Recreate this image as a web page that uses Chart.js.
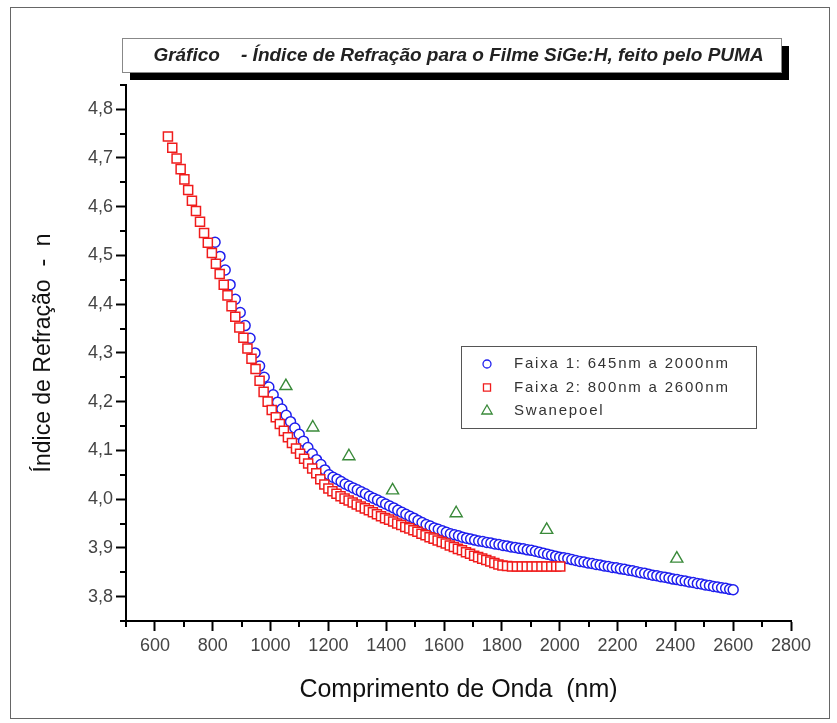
<!DOCTYPE html>
<html>
<head>
<meta charset="utf-8">
<script src="https://cdn.jsdelivr.net/npm/chart.js@4.4.0/dist/chart.umd.min.js"></script>
<style>
  html, body { margin: 0; padding: 0; background: #fff; }
  #wrap { width: 837px; height: 723px; }
</style>
</head>
<body>
<div id="wrap"><canvas id="myChart" width="837" height="723"></canvas></div>
<script>
// Faixa 1 - blue circles (wavelength nm / refractive index)
const faixa1Wave = [
  808, 825, 843, 860, 878, 895, 912, 929, 946, 962, 978, 994, 1009, 1024, 1039, 1054,
  1069, 1084, 1099, 1114, 1129, 1144, 1159, 1174, 1188, 1202, 1216, 1230, 1244, 1258,
  1272, 1286, 1300, 1314, 1328, 1342, 1356, 1370, 1384, 1398, 1412, 1426, 1440, 1454,
  1468, 1482, 1496, 1510, 1524, 1538, 1552, 1566, 1580, 1594, 1608, 1622, 1636, 1650,
  1664, 1678, 1692, 1706, 1720, 1734, 1748, 1762, 1776, 1790, 1804, 1818, 1832, 1846,
  1860, 1874, 1888, 1902, 1916, 1930, 1944, 1958, 1972, 1986, 2000, 2014, 2028, 2042,
  2056, 2070, 2084, 2098, 2112, 2126, 2140, 2154, 2168, 2182, 2196, 2210, 2224, 2238,
  2252, 2266, 2280, 2294, 2308, 2322, 2336, 2350, 2364, 2378, 2392, 2406, 2420, 2434,
  2448, 2462, 2476, 2490, 2504, 2518, 2532, 2546, 2560, 2574, 2588, 2600
];
const faixa1Index = [
  4.527, 4.498, 4.470, 4.440, 4.410, 4.383, 4.356, 4.330, 4.300, 4.273, 4.250, 4.230, 4.214, 4.199, 4.185, 4.172,
  4.159, 4.146, 4.133, 4.119, 4.106, 4.093, 4.081, 4.071, 4.060, 4.050, 4.045, 4.041, 4.036, 4.031,
  4.027, 4.023, 4.019, 4.015, 4.011, 4.006, 4.002, 3.998, 3.994, 3.990, 3.986, 3.982, 3.977, 3.973,
  3.969, 3.965, 3.961, 3.956, 3.952, 3.948, 3.945, 3.941, 3.938, 3.935, 3.932, 3.929, 3.927, 3.925,
  3.922, 3.920, 3.918, 3.916, 3.914, 3.913, 3.911, 3.910, 3.908, 3.907, 3.905, 3.904, 3.902, 3.901,
  3.899, 3.898, 3.896, 3.895, 3.893, 3.891, 3.889, 3.887, 3.885, 3.883, 3.881, 3.880, 3.878, 3.876,
  3.874, 3.872, 3.871, 3.869, 3.868, 3.866, 3.865, 3.863, 3.862, 3.860, 3.859, 3.857, 3.856, 3.854,
  3.853, 3.851, 3.849, 3.848, 3.846, 3.844, 3.843, 3.841, 3.840, 3.838, 3.836, 3.835, 3.833, 3.832,
  3.830, 3.829, 3.827, 3.826, 3.824, 3.823, 3.821, 3.820, 3.818, 3.817, 3.815, 3.814
];

// Faixa 2 - red squares
const faixa2Wave = [
  645, 660, 675, 689, 702, 715, 728, 742, 756, 770, 783, 797, 811, 824, 838, 851,
  865, 878, 892, 906, 920, 934, 948, 962, 976, 990, 1004, 1018, 1032, 1046, 1060, 1074,
  1088, 1102, 1116, 1130, 1144, 1158, 1172, 1186, 1200, 1214, 1228, 1242, 1256, 1270,
  1284, 1298, 1312, 1326, 1340, 1354, 1368, 1382, 1396, 1410, 1424, 1438, 1452, 1466,
  1480, 1494, 1508, 1522, 1536, 1550, 1564, 1578, 1592, 1606, 1620, 1634, 1648, 1662,
  1676, 1690, 1704, 1718, 1732, 1746, 1760, 1774, 1788, 1802, 1818, 1835, 1852, 1869,
  1886, 1903, 1920, 1937, 1954, 1971, 1988, 2002
];
const faixa2Index = [
  4.744, 4.721, 4.699, 4.677, 4.656, 4.634, 4.612, 4.591, 4.569, 4.546, 4.526, 4.505, 4.483, 4.462, 4.440, 4.418,
  4.396, 4.374, 4.352, 4.331, 4.309, 4.288, 4.267, 4.243, 4.220, 4.200, 4.183, 4.168, 4.154, 4.140, 4.127, 4.115,
  4.104, 4.093, 4.083, 4.073, 4.063, 4.053, 4.041, 4.030, 4.022, 4.016, 4.011, 4.006, 4.001, 3.997,
  3.993, 3.989, 3.985, 3.981, 3.977, 3.973, 3.969, 3.965, 3.961, 3.958, 3.954, 3.950, 3.947, 3.943,
  3.940, 3.936, 3.933, 3.929, 3.926, 3.922, 3.919, 3.915, 3.912, 3.909, 3.905, 3.902, 3.898, 3.895,
  3.891, 3.888, 3.884, 3.881, 3.878, 3.875, 3.872, 3.869, 3.866, 3.864, 3.863, 3.862, 3.862, 3.862,
  3.862, 3.862, 3.862, 3.862, 3.862, 3.862, 3.862, 3.862
];

// Swanepoel - green triangles
const swanWave = [1053, 1146, 1271, 1422, 1642, 1955, 2405];
const swanIndex = [4.232, 4.147, 4.088, 4.018, 3.971, 3.937, 3.878];

const seriesLabels = ['Faixa 1: 645nm a 2000nm', 'Faixa 2: 800nm a 2600nm', 'Swanepoel'];
const chartTitle = 'Gráfico    - Índice de Refração para o Filme SiGe:H, feito pelo PUMA';
const xTitle = 'Comprimento de Onda  (nm)';
const yTitle = 'Índice de Refração  -  n';

const xTickValues = [600, 800, 1000, 1200, 1400, 1600, 1800, 2000, 2200, 2400, 2600, 2800];
const yTickValues = [3.8, 3.9, 4.0, 4.1, 4.2, 4.3, 4.4, 4.5, 4.6, 4.7, 4.8];
const xMinorValues = [500, 700, 900, 1100, 1300, 1500, 1700, 1900, 2100, 2300, 2500, 2700];
const yMinorValues = [3.75, 3.85, 3.95, 4.05, 4.15, 4.25, 4.35, 4.45, 4.55, 4.65, 4.75, 4.85];

const FONT = 'Liberation Sans, Arial, sans-serif';

function toPoints(xs, ys) {
    return xs.map((x, i) => ({ x: x, y: ys[i] }));
}

// frame + title box with shadow
const backdrop = {
    id: 'backdrop',
    beforeDraw(chart) {
        const ctx = chart.ctx;
        const area = chart.chartArea;
        const tb = chart.titleBlock;
        ctx.save();
        ctx.fillStyle = '#fff';
        ctx.fillRect(0, 0, chart.width, chart.height);
        ctx.strokeStyle = '#666';
        ctx.lineWidth = 1;
        ctx.strokeRect(10.5, 7.5, 819, 711);

        const bx = area.left - 4, by = tb.top, bw = area.right - 10 - bx, bh = 34;
        ctx.fillStyle = '#000';
        ctx.fillRect(bx + 8, by + 8, bw, bh);
        ctx.fillStyle = '#fff';
        ctx.fillRect(bx, by, bw, bh);
        ctx.strokeStyle = '#888';
        ctx.strokeRect(bx + 0.5, by + 0.5, bw, bh);
        ctx.restore();
    }
};

// minor ticks at half steps
const minorTicks = {
    id: 'minorTicks',
    afterDraw(chart) {
        const { ctx, scales: { x, y } } = chart;
        ctx.save();
        ctx.strokeStyle = '#000';
        ctx.lineWidth = 2;
        ctx.beginPath();
        xMinorValues.forEach(v => {
            const px = Math.round(x.getPixelForValue(v));
            ctx.moveTo(px, x.top);
            ctx.lineTo(px, x.top + 6);
        });
        yMinorValues.forEach(v => {
            const py = Math.round(y.getPixelForValue(v));
            ctx.moveTo(y.right, py);
            ctx.lineTo(y.right - 6, py);
        });
        ctx.stroke();
        ctx.restore();
    }
};

// legend box drawn inside the plot
const legendBox = {
    id: 'legendBox',
    afterDraw(chart) {
        const ctx = chart.ctx;
        const left = 461, top = 346, w = 295, h = 82;
        ctx.save();
        ctx.fillStyle = '#fff';
        ctx.fillRect(left, top, w, h);
        ctx.strokeStyle = '#555';
        ctx.lineWidth = 1;
        ctx.strokeRect(left + 0.5, top + 0.5, w, h);

        const symSize = [4, 5, 6];
        chart.data.datasets.forEach((ds, i) => {
            const cy = top + 18 + i * 23.5;
            ctx.strokeStyle = ds.borderColor;
            ctx.fillStyle = '#fff';
            ctx.lineWidth = 1.3;
            Chart.helpers.drawPoint(ctx, {
                pointStyle: ds.pointStyle, radius: symSize[i], borderWidth: 1.3, rotation: 0
            }, left + 26, cy);
            ctx.fillStyle = '#333';
            ctx.font = '15px ' + FONT;
            ctx.letterSpacing = '1.8px';
            ctx.textBaseline = 'middle';
            ctx.fillText(ds.label, left + 53, cy);
        });
        ctx.restore();
    }
};

const ctx = document.getElementById('myChart').getContext('2d');
const myChart = new Chart(ctx, {
    type: 'scatter',
    data: {
        datasets: [
            {
                label: seriesLabels[0],
                data: toPoints(faixa1Wave, faixa1Index),
                pointStyle: 'circle',
                pointRadius: 5,
                borderColor: '#1f1fee',
                backgroundColor: '#fff',
                borderWidth: 1.5,
                order: 2
            },
            {
                label: seriesLabels[1],
                data: toPoints(faixa2Wave, faixa2Index),
                pointStyle: 'rect',
                pointRadius: 6.4,
                borderColor: '#f01c1c',
                backgroundColor: '#fff',
                borderWidth: 1.5,
                order: 1
            },
            {
                label: seriesLabels[2],
                data: toPoints(swanWave, swanIndex),
                pointStyle: 'triangle',
                pointRadius: 7,
                borderColor: '#3a8a3a',
                backgroundColor: 'rgba(255,255,255,0)',
                borderWidth: 1.4,
                order: 3
            }
        ]
    },
    options: {
        responsive: false,
        animation: false,
        layout: { padding: { top: 38, left: 0, right: 46, bottom: 0 } },
        plugins: {
            legend: { display: false },
            tooltip: { enabled: false },
            title: {
                display: true,
                text: chartTitle,
                fullSize: false,
                color: '#222',
                font: { family: FONT, size: 19, style: 'italic', weight: 'bold' },
                padding: { top: 6, bottom: 18 }
            }
        },
        scales: {
            x: {
                type: 'linear',
                min: 500,
                max: 2800,
                afterFit: (scale) => { scale.height = 102; },
                afterBuildTicks: (scale) => { scale.ticks = xTickValues.map(v => ({ value: v })); },
                grid: { display: true, drawOnChartArea: false, tickLength: 10, tickColor: '#000', tickWidth: 2 },
                border: { display: true, color: '#000', width: 2 },
                ticks: {
                    autoSkip: false, maxRotation: 0, padding: 4, color: '#444',
                    font: { family: FONT, size: 18 },
                    callback: (v) => String(v)
                },
                title: {
                    display: true, text: xTitle, color: '#111',
                    font: { family: FONT, size: 25 },
                    padding: { top: 0, bottom: 18 }
                }
            },
            y: {
                type: 'linear',
                min: 3.75,
                max: 4.85,
                afterFit: (scale) => { scale.width = 126; },
                afterBuildTicks: (scale) => { scale.ticks = yTickValues.map(v => ({ value: v })); },
                grid: { display: true, drawOnChartArea: false, tickLength: 10, tickColor: '#000', tickWidth: 2 },
                border: { display: true, color: '#000', width: 2 },
                ticks: {
                    autoSkip: false, padding: 3, color: '#444',
                    font: { family: FONT, size: 18 },
                    callback: (v) => Number(v).toFixed(1).replace('.', ',')
                },
                title: {
                    display: true, text: yTitle, color: '#111',
                    font: { family: FONT, size: 23 },
                    padding: { top: 30, bottom: 0 }
                }
            }
        }
    },
    plugins: [backdrop, minorTicks, legendBox]
});
</script>
</body>
</html>
